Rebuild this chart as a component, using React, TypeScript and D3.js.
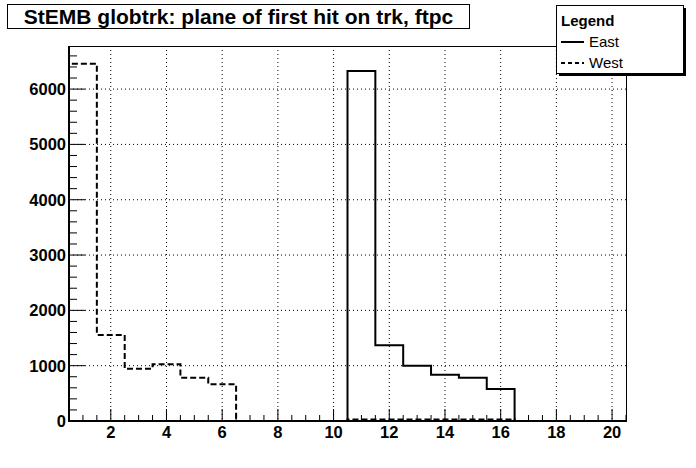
import React from "react";
import * as d3 from "d3";

const binLow = [0.5, 1.5, 2.5, 3.5, 4.5, 5.5, 6.5, 7.5, 8.5, 9.5, 10.5, 11.5, 12.5, 13.5, 14.5, 15.5, 16.5, 17.5, 18.5, 19.5];
const eastValues = [0, 0, 0, 0, 0, 0, 0, 0, 0, 0, 6329, 1369, 1000, 837, 783, 579, 0, 0, 0, 0];
const westValues = [6456, 1555, 945, 1025, 783, 663, 0, 0, 0, 0, 25, 25, 25, 25, 25, 25, 0, 0, 0, 0];
const xTicks = [2, 4, 6, 8, 10, 12, 14, 16, 18, 20];
const yTicks = [0, 1000, 2000, 3000, 4000, 5000, 6000];
const title = "StEMB globtrk: plane of first hit on trk, ftpc";
const seriesNames = ["East", "West"];

const W = 696, H = 468;
const L = 69, R = 626, T = 46, B = 421;
const font = "'Liberation Sans', Arial, Helvetica, sans-serif";

export default function App() {
  const x = d3.scaleLinear().domain([0.5, 20.5]).range([L, R]);
  const yMax = d3.max(westValues.concat(eastValues))! * 1.05;
  const y = d3.scaleLinear().domain([0, yMax]).range([B, T]);

  const stepPath = (vals: number[]) => {
    const p = d3.path();
    p.moveTo(x(binLow[0]), y(0));
    vals.forEach((v, i) => {
      p.lineTo(x(binLow[i]), y(v));
      p.lineTo(x(binLow[i] + 1), y(v));
    });
    p.lineTo(x(binLow[binLow.length - 1] + 1), y(0));
    return p.toString();
  };

  const xMinor = d3.range(0.5, 20.51, 0.5).filter((v) => !xTicks.includes(v));
  const yMinor = d3.range(0, yMax, 200).filter((v) => v % 1000 !== 0);

  return (
    <svg width={W} height={H} style={{ position: "absolute", left: 0, top: 0, background: "#fff" }} fontFamily={font}>
      <rect x={0} y={0} width={W} height={H} fill="#fff" />
      {/* grid */}
      {xTicks.map((t) => (
        <line key={"gx" + t} x1={x(t)} x2={x(t)} y1={T} y2={B} stroke="#000" strokeWidth={1} strokeDasharray="1,3" />
      ))}
      {yTicks.filter((t) => t > 0).map((t) => (
        <line key={"gy" + t} x1={L} x2={R} y1={y(t)} y2={y(t)} stroke="#000" strokeWidth={1} strokeDasharray="1,3" />
      ))}
      {/* histograms */}
      <path d={stepPath(westValues)} fill="none" stroke="#000" strokeWidth={2} strokeDasharray="6,3" />
      <path d={stepPath(eastValues)} fill="none" stroke="#000" strokeWidth={2} />
      {/* frame */}
      <line x1={L} x2={R} y1={T + 0.5} y2={T + 0.5} stroke="#000" strokeWidth={1} />
      <line x1={R + 0.5} x2={R + 0.5} y1={T} y2={B} stroke="#000" strokeWidth={1} />
      <line x1={L} x2={R + 1} y1={B} y2={B} stroke="#000" strokeWidth={2} />
      <line x1={L} x2={L} y1={T} y2={B + 1} stroke="#000" strokeWidth={2} />
      {/* x ticks */}
      {xTicks.map((t) => (
        <g key={"xt" + t}>
          <line x1={x(t)} x2={x(t)} y1={B} y2={B - 12} stroke="#000" strokeWidth={1} />
          <text x={x(t)} y={438} textAnchor="middle" fontSize={16.5} fontWeight="bold">{t}</text>
        </g>
      ))}
      {xMinor.map((t) => (
        <line key={"xm" + t} x1={x(t)} x2={x(t)} y1={B} y2={B - 6} stroke="#000" strokeWidth={1} />
      ))}
      {/* y ticks */}
      {yTicks.map((t) => (
        <g key={"yt" + t}>
          <line x1={L} x2={L + 16} y1={y(t)} y2={y(t)} stroke="#000" strokeWidth={1} />
          <text x={66} y={y(t) + 6} textAnchor="end" fontSize={16.5} fontWeight="bold">{t}</text>
        </g>
      ))}
      {yMinor.map((t) => (
        <line key={"ym" + t} x1={L} x2={L + 8} y1={y(t)} y2={y(t)} stroke="#000" strokeWidth={1} />
      ))}
      {/* title */}
      <rect x={7.5} y={4.5} width={462} height={24} fill="#fff" stroke="#000" strokeWidth={1} />
      <text x={238.5} y={24} textAnchor="middle" fontSize={21} fontWeight="bold">{title}</text>
      {/* legend */}
      <rect x={559} y={8} width={127} height={68} fill="#000" />
      <rect x={556.5} y={5.5} width={127} height={68} fill="#fff" stroke="#000" strokeWidth={1} />
      <text x={561} y={26} fontSize={15} fontWeight="bold">Legend</text>
      <line x1={561} x2={584} y1={42} y2={42} stroke="#000" strokeWidth={2} />
      <text x={589} y={47} fontSize={15}>{seriesNames[0]}</text>
      <line x1={561} x2={584} y1={63} y2={63} stroke="#000" strokeWidth={2} strokeDasharray="4,3" />
      <text x={589} y={68} fontSize={15}>{seriesNames[1]}</text>
    </svg>
  );
}
